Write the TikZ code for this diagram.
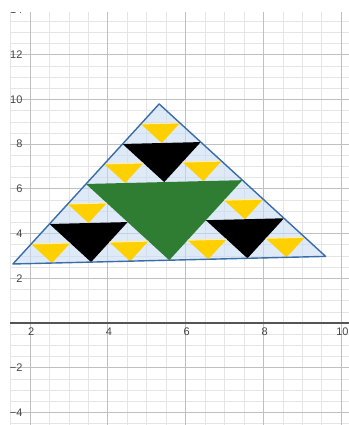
\documentclass[tikz,border=0pt]{standalone}
\usepackage{fontspec}
\setmainfont{Liberation Sans}
\usetikzlibrary{calc}
\definecolor{minorgrid}{RGB}{229,229,229}
\definecolor{majorgrid}{RGB}{192,192,192}
\definecolor{axiscol}{RGB}{85,85,85}
\definecolor{labelcol}{RGB}{70,70,70}
\definecolor{trifill}{RGB}{200,220,242}
\definecolor{tristroke}{RGB}{58,108,168}
\definecolor{sgreen}{RGB}{46,125,50}
\definecolor{syellow}{RGB}{255,208,0}
\definecolor{yedge}{RGB}{255,238,170}
\newcommand{\midtri}[4]{%
  \path[#4] ({#1+#3/2},{#2}) -- ({#1+#3/2},{#2+#3/2}) -- ({#1},{#2+#3/2}) -- cycle;}
\newcommand{\yelltri}[3]{%
  \midtri{#1}{#2}{#3}{yellowtri}%
  \draw[yellowtop] ({#1+#3/2},{#2+#3/2}) -- ({#1},{#2+#3/2});}
\begin{document}
\begin{tikzpicture}[x=38.9pt,y=22.35pt,
  minorline/.style={draw=minorgrid,line width=0.6pt},
  majorline/.style={draw=majorgrid,line width=0.8pt},
  axisline/.style={draw=axiscol,line width=1.3pt},
  ticklabel/.style={text=labelcol,font=\fontsize{11}{12}\selectfont,inner sep=0pt},
  triback/.style={fill=trifill,fill opacity=0.6},
  tribound/.style={draw=tristroke,line width=1.4pt,line join=round},
  greentri/.style={fill=sgreen},
  blacktri/.style={fill=black},
  yellowtri/.style={fill=syellow},
  yellowtop/.style={draw=yedge,line width=1pt}]
\useasboundingbox (1.2288,-4.5638) rectangle (10.1748,14.4519);
\fill[white] (1.2288,-4.5638) rectangle (10.1748,14.4519);
% grid
\foreach \gx in {1.5,2.5,...,10}
  \draw[minorline] (\gx,-4.6) -- (\gx,13.915);
\foreach \gy in {-4.5,-3.5,...,13.5}
  \draw[minorline] (1.486,\gy) -- (10.2,\gy);
\foreach \gx in {3,5,7,9}
  \draw[minorline] (\gx,-4.6) -- (\gx,13.915);
\foreach \gy in {-3,-1,...,13}
  \draw[minorline] (1.486,\gy) -- (10.2,\gy);
\foreach \gx in {2,4,6,8,10}
  \draw[majorline] (\gx,-4.6) -- (\gx,13.915);
\foreach \gy in {-4,-2,2,4,6,8,10,12}
  \draw[majorline] (1.486,\gy) -- (10.2,\gy);
\draw[axisline] (1.486,0) -- (10.2,0);
% tick labels
\foreach \gy/\txt in {14/14,12/12,10/10,8/8,6/6,4/4,2/2,-2/−2,-4/−4}
  \node[ticklabel,anchor=east] (ly\gy) at (1.81,\gy) {\txt};
\foreach \gx in {2,4,6,8,10}
  \node[ticklabel,anchor=north] (lx\gx) at (\gx+0.03,-0.22) {\gx};
\fill[white] (1.2288,13.915) rectangle (10.1748,14.4519);
% triangle
\coordinate (A) at (1.56,2.64);
\coordinate (B) at (9.6,2.98);
\coordinate (C) at (5.32,9.8);
\path[triback] (A) -- (B) -- (C) -- cycle;
\begin{scope}[shift={(A)},x={(312.76pt,7.60pt)},y={(146.26pt,160.03pt)}]
  \midtri{0}{0}{1}{greentri}
  \midtri{0}{0}{0.5}{blacktri}
  \midtri{0.5}{0}{0.5}{blacktri}
  \midtri{0}{0.5}{0.5}{blacktri}
  \yelltri{0}{0}{0.25}
  \yelltri{0.25}{0}{0.25}
  \yelltri{0}{0.25}{0.25}
  \yelltri{0.5}{0}{0.25}
  \yelltri{0.75}{0}{0.25}
  \yelltri{0.5}{0.25}{0.25}
  \yelltri{0}{0.5}{0.25}
  \yelltri{0.25}{0.5}{0.25}
  \yelltri{0}{0.75}{0.25}
\end{scope}
\path[tribound] (A) -- (B) -- (C) -- cycle;
\end{tikzpicture}
\end{document}
